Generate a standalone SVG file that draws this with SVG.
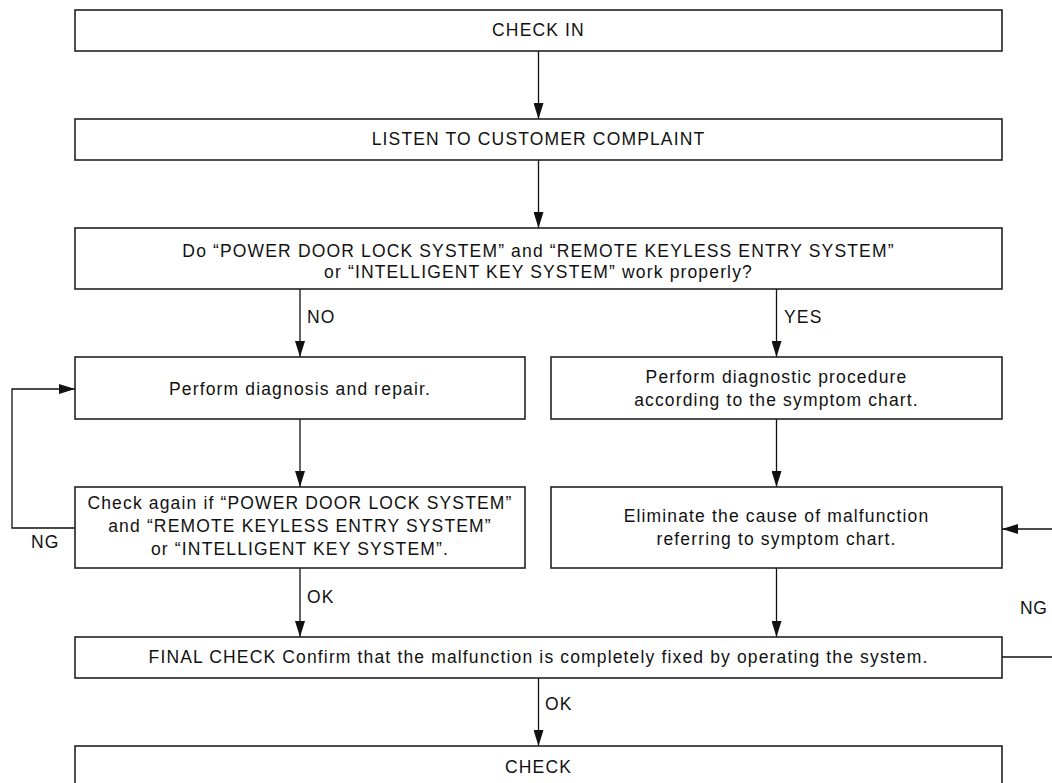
<svg xmlns="http://www.w3.org/2000/svg" width="1052" height="783" viewBox="0 0 1052 783">
<defs>
<marker id="ah" markerUnits="userSpaceOnUse" markerWidth="17" markerHeight="10" refX="16" refY="5" orient="auto">
<path d="M0,0 L16,5 L0,10 z" fill="#111"/>
</marker>
<style>
.box{fill:#fff;stroke:#222;stroke-width:1.6}
.t{font-family:"Liberation Sans",Arial,sans-serif;font-size:17.5px;letter-spacing:1.15px;fill:#111;text-anchor:middle}
.l{font-family:"Liberation Sans",Arial,sans-serif;font-size:17.5px;letter-spacing:1.15px;fill:#111}
.c{fill:none;stroke:#111;stroke-width:1.3}
</style>
</defs>
<rect width="1052" height="783" fill="#fff"/>
<g id="connectors">
<path class="c" d="M538.5,51 V119" marker-end="url(#ah)"/>
<path class="c" d="M538.5,160 V228" marker-end="url(#ah)"/>
<path class="c" d="M300,289 V357" marker-end="url(#ah)"/>
<path class="c" d="M776.5,289 V357" marker-end="url(#ah)"/>
<path class="c" d="M300,419 V487" marker-end="url(#ah)"/>
<path class="c" d="M776.5,419 V487" marker-end="url(#ah)"/>
<path class="c" d="M300,568 V637" marker-end="url(#ah)"/>
<path class="c" d="M776.5,568 V637" marker-end="url(#ah)"/>
<path class="c" d="M538.5,678 V746" marker-end="url(#ah)"/>
<path class="c" d="M75,528 H12 V389 H75" marker-end="url(#ah)"/>
<path class="c" d="M1002,657 H1060 V529 H1002" marker-end="url(#ah)"/>
<text class="l" x="307" y="323">NO</text>
<text class="l" x="784" y="323">YES</text>
<text class="l" x="307" y="603">OK</text>
<text class="l" x="545" y="710">OK</text>
<text class="l" x="31" y="548">NG</text>
<text class="l" x="1020" y="614" style="letter-spacing:0.5px">NG</text>
</g>
<g id="n1"><rect class="box" x="75" y="10" width="927" height="41"/><text class="t" x="538.5" y="36">CHECK IN</text></g>
<g id="n2"><rect class="box" x="75" y="119" width="927" height="41"/><text class="t" x="538.5" y="145">LISTEN TO CUSTOMER COMPLAINT</text></g>
<g id="n3"><rect class="box" x="75" y="228" width="927" height="61"/><text class="t" x="538.5" y="257">Do “POWER DOOR LOCK SYSTEM” and “REMOTE KEYLESS ENTRY SYSTEM”</text><text class="t" x="538.5" y="278">or “INTELLIGENT KEY SYSTEM” work properly?</text></g>
<g id="n4"><rect class="box" x="75" y="357" width="450" height="62"/><text class="t" x="300" y="395">Perform diagnosis and repair.</text></g>
<g id="n5"><rect class="box" x="551" y="357" width="451" height="62"/><text class="t" x="776.5" y="383">Perform diagnostic procedure</text><text class="t" x="776.5" y="406">according to the symptom chart.</text></g>
<g id="n6"><rect class="box" x="75" y="487" width="450" height="81"/><text class="t" x="300" y="509">Check again if “POWER DOOR LOCK SYSTEM”</text><text class="t" x="300" y="532">and “REMOTE KEYLESS ENTRY SYSTEM”</text><text class="t" x="300" y="555">or “INTELLIGENT KEY SYSTEM”.</text></g>
<g id="n7"><rect class="box" x="551" y="487" width="451" height="81"/><text class="t" x="776.5" y="522">Eliminate the cause of malfunction</text><text class="t" x="776.5" y="545">referring to symptom chart.</text></g>
<g id="n8"><rect class="box" x="75" y="637" width="927" height="41"/><text class="t" x="538.5" y="663">FINAL CHECK Confirm that the malfunction is completely fixed by operating the system.</text></g>
<g id="n9"><rect class="box" x="75" y="746" width="927" height="60"/><text class="t" x="538.5" y="773">CHECK</text></g>
</svg>
